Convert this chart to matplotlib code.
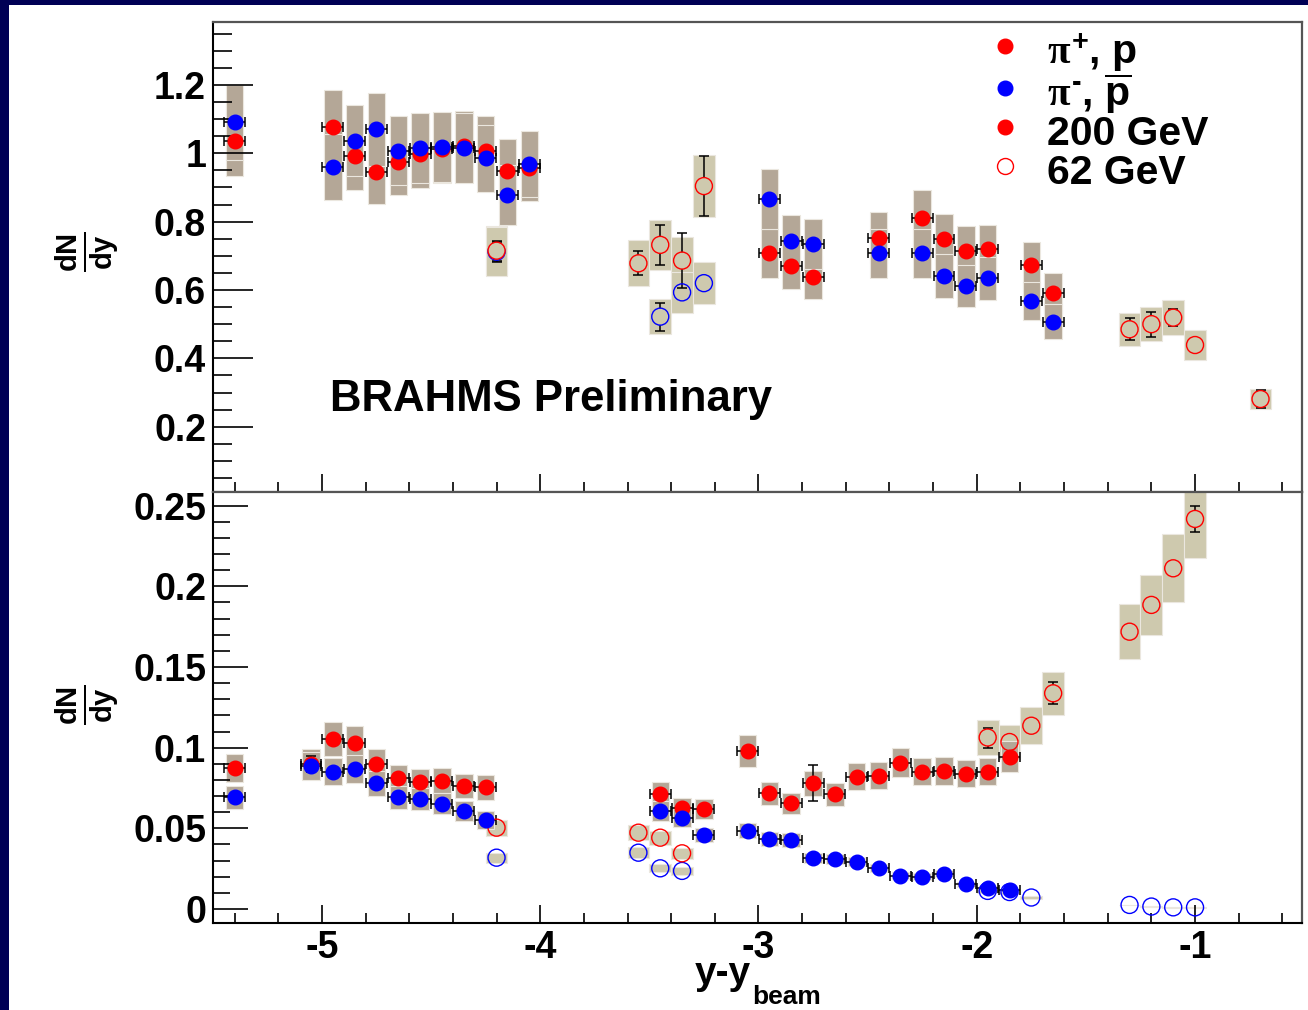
"""
BRAHMS preliminary: dN/dy vs y - y_beam, 200 GeV and 62 GeV, two stacked panels.
"""
import numpy as np
import matplotlib
matplotlib.use("Agg")
import matplotlib.pyplot as plt
from matplotlib.patches import Rectangle
from matplotlib.lines import Line2D
from matplotlib.ticker import MultipleLocator, FixedLocator, FixedFormatter

plt.rcParams['font.family'] = ['Liberation Sans', 'DejaVu Sans']
plt.rcParams['font.weight'] = 'bold'
plt.rcParams['mathtext.fontset'] = 'custom'
plt.rcParams['mathtext.rm'] = 'Liberation Sans:bold'
plt.rcParams['mathtext.bf'] = 'Liberation Sans:bold'
plt.rcParams['mathtext.it'] = 'Liberation Serif'
plt.rcParams['axes.unicode_minus'] = False

# ---- top panel, 200 GeV (red = pi+, p ; blue = pi-, pbar)
top_x200 = [-5.40, -4.95, -4.85, -4.75, -4.65, -4.55, -4.45, -4.35, -4.25, -4.15, -4.05,
            -2.95, -2.85, -2.75, -2.45, -2.25, -2.15, -2.05, -1.95, -1.75, -1.65]
top_red200 = [1.037, 1.078, 0.993, 0.946, 0.974, 0.998, 1.013, 1.022, 1.007, 0.948, 0.956,
              0.707, 0.671, 0.637, 0.753, 0.812, 0.748, 0.715, 0.719, 0.673, 0.590]
top_blue200 = [1.090, 0.959, 1.037, 1.070, 1.008, 1.015, 1.019, 1.015, 0.985, 0.878, 0.969,
               0.866, 0.744, 0.734, 0.707, 0.707, 0.641, 0.612, 0.634, 0.568, 0.507]
top_rerr200 = [0.0] * len(top_x200)
top_berr200 = [0.0] * len(top_x200)

# ---- top panel, 62 GeV
top_x62r = [-4.2, -3.55, -3.45, -3.35, -3.25, -1.3, -1.2, -1.1, -1.0, -0.7]
top_red62 = [0.715, 0.678, 0.732, 0.686, 0.904, 0.485, 0.500, 0.519, 0.439, 0.281]
top_rerr62 = [0.029, 0.035, 0.059, 0.080, 0.089, 0.032, 0.037, 0.025, 0.0, 0.025]
top_x62b = [-4.2, -3.45, -3.35, -3.25]
top_blue62 = [0.712, 0.522, 0.593, 0.620]
top_berr62 = [0.029, 0.041, 0.0, 0.0]

# ---- bottom panel, 200 GeV
bot_x200 = [-5.40, -5.05, -4.95, -4.85, -4.75, -4.65, -4.55, -4.45, -4.35, -4.25,
            -3.45, -3.35, -3.25, -3.05, -2.95, -2.85, -2.75, -2.65, -2.55, -2.45,
            -2.35, -2.25, -2.15, -2.05, -1.95, -1.85]
bot_red200 = [0.0872, 0.0900, 0.1052, 0.1031, 0.0899, 0.0810, 0.0789, 0.0796, 0.0763, 0.0754,
              0.0713, 0.0624, 0.0618, 0.0981, 0.0717, 0.0655, 0.0779, 0.0711, 0.0820, 0.0826,
              0.0907, 0.0851, 0.0857, 0.0837, 0.0852, 0.0944]
bot_blue200 = [0.0692, 0.0887, 0.0851, 0.0866, 0.0779, 0.0692, 0.0680, 0.0651, 0.0608, 0.0552,
               0.0609, 0.0562, 0.0459, 0.0486, 0.0434, 0.0428, 0.0318, 0.0308, 0.0293, 0.0256,
               0.0207, 0.0200, 0.0217, 0.0153, 0.0128, 0.0120]
bot_rerr200 = [0.0, 0.005, 0.0, 0.0, 0.0, 0.0, 0.0, 0.0, 0.0, 0.0,
               0.0, 0.0, 0.0, 0.0, 0.0, 0.0, 0.0112, 0.0, 0.0, 0.0,
               0.0, 0.0, 0.0, 0.0, 0.0, 0.0]
bot_berr200 = [0.0] * len(bot_x200)

# ---- bottom panel, 62 GeV
bot_x62r = [-4.2, -3.55, -3.45, -3.35, -1.95, -1.85, -1.75, -1.65, -1.3, -1.2, -1.1, -1.0]
bot_red62 = [0.0504, 0.0473, 0.0442, 0.0345, 0.1063, 0.1035, 0.1136, 0.1337,
             0.1719, 0.1885, 0.2112, 0.2418]
bot_rerr62 = [0.0, 0.0, 0.0, 0.0, 0.0062, 0.0, 0.0, 0.0068, 0.0, 0.0, 0.0, 0.0078]
bot_x62b = [-4.2, -3.55, -3.45, -3.35, -1.95, -1.85, -1.75, -1.3, -1.2, -1.1, -1.0]
bot_blue62 = [0.0318, 0.0349, 0.0252, 0.0236, 0.0112, 0.0105, 0.0071,
              0.0025, 0.0015, 0.0010, 0.0010]
bot_berr62 = [0.0] * len(bot_x62b)

SYS = 0.10          # relative systematic error (boxes)
XERR200 = 0.048     # half bin for the 200 GeV points
BOX200 = '#b4a797'
BOX62 = '#cec9ae'
RED = '#ff0000'
BLUE = '#0000ff'

W, H = 1308, 1010


def fx(px):
    return px / W


def fy(py):
    return 1 - py / H


def sys_boxes(ax, x, y, width, color, z):
    y = np.asarray(y)
    ax.bar(x, 2 * SYS * y, bottom=y * (1 - SYS), width=width, color=color,
           edgecolor='#ebe7df', linewidth=0.8, zorder=z)


def stat_bars(ax, x, y, err):
    # only points whose statistical error is visible
    sel = [(a, b, e) for a, b, e in zip(x, y, err) if e > 0]
    if not sel:
        return
    xs, ys, es = zip(*sel)
    ax.errorbar(xs, ys, yerr=es, fmt='none', ecolor='black', elinewidth=1.1,
                capsize=3.5, capthick=1.1, zorder=3)


def draw_panel(ax, x200, r200, b200, re200, be200, x62r, r62, re62, x62b, b62, be62):
    sys_boxes(ax, x62r, r62, 0.1, BOX62, 1)
    sys_boxes(ax, x62b, b62, 0.1, BOX62, 1)
    sys_boxes(ax, x200, r200, 0.08, BOX200, 1.5)
    sys_boxes(ax, x200, b200, 0.08, BOX200, 1.5)

    stat_bars(ax, x62r, r62, re62)
    stat_bars(ax, x62b, b62, be62)
    stat_bars(ax, x200, r200, re200)
    stat_bars(ax, x200, b200, be200)
    ax.errorbar(x200, r200, xerr=XERR200, fmt='none', ecolor='black',
                elinewidth=1.1, capsize=3.5, capthick=1.1, zorder=3)
    ax.errorbar(x200, b200, xerr=XERR200, fmt='none', ecolor='black',
                elinewidth=1.1, capsize=3.5, capthick=1.1, zorder=3)

    # open markers: fill with box colour where an error bar would cross them
    fc_b = [BOX62 if e > 0 else 'none' for e in be62]
    fc_r = [BOX62 if e > 0 else 'none' for e in re62]
    ax.scatter(x62b, b62, s=150, marker='o', facecolors=fc_b, edgecolors=BLUE,
               linewidths=1.0, zorder=4)
    ax.scatter(x62r, r62, s=150, marker='o', facecolors=fc_r, edgecolors=RED,
               linewidths=1.0, zorder=4)

    ax.plot(x200, r200, 'o', color=RED, ms=10.5, mec=RED, zorder=5)
    ax.plot(x200, b200, 'o', color=BLUE, ms=10.5, mec=BLUE, zorder=6)


def style_axis(ax, ylen, ylen_minor):
    ax.tick_params(which='both', direction='in', top=False, right=False,
                   labelsize=27, width=1.2, color='black')
    ax.yaxis.set_tick_params(which='major', length=ylen, pad=5)
    ax.yaxis.set_tick_params(which='minor', length=ylen_minor)
    ax.xaxis.set_tick_params(which='major', length=13, pad=5)
    ax.xaxis.set_tick_params(which='minor', length=7)
    for lab in ax.get_xticklabels() + ax.get_yticklabels():
        lab.set_fontweight('bold')
    for side in ['left', 'bottom']:
        ax.spines[side].set_linewidth(1.5)
        ax.spines[side].set_color('black')
    for side in ['top', 'right']:
        ax.spines[side].set_linewidth(1.6)
        ax.spines[side].set_color('#555555')


fig = plt.figure(figsize=(W / 100, H / 100), dpi=100)
fig.patch.set_facecolor('#000055')
fig.add_artist(Rectangle((fx(9), 0), 1, fy(5), transform=fig.transFigure,
                         facecolor='white', edgecolor='none', zorder=-10))

ax1 = fig.add_axes([fx(213), fy(492), fx(1302) - fx(213), fy(22) - fy(492)])
ax2 = fig.add_axes([fx(213), fy(923), fx(1302) - fx(213), fy(492) - fy(923)])

draw_panel(ax1, top_x200, top_red200, top_blue200, top_rerr200, top_berr200,
           top_x62r, top_red62, top_rerr62, top_x62b, top_blue62, top_berr62)
draw_panel(ax2, bot_x200, bot_red200, bot_blue200, bot_rerr200, bot_berr200,
           bot_x62r, bot_red62, bot_rerr62, bot_x62b, bot_blue62, bot_berr62)

for ax in (ax1, ax2):
    ax.set_xlim(-5.499, -0.51)
    ax.xaxis.set_major_locator(MultipleLocator(1))
    ax.xaxis.set_minor_locator(MultipleLocator(0.2))
    ax.set_facecolor('white')

ax1.set_ylim(0.009, 1.384)
ax1.yaxis.set_major_locator(FixedLocator([0.2, 0.4, 0.6, 0.8, 1.0, 1.2]))
ax1.yaxis.set_major_formatter(FixedFormatter(['0.2', '0.4', '0.6', '0.8', '1', '1.2']))
ax1.yaxis.set_minor_locator(MultipleLocator(0.05))
ax1.tick_params(axis='x', labelbottom=False)

ax2.set_ylim(-0.0087, 0.2585)
ax2.yaxis.set_major_locator(FixedLocator([0, 0.05, 0.1, 0.15, 0.2, 0.25]))
ax2.yaxis.set_major_formatter(FixedFormatter(['0', '0.05', '0.1', '0.15', '0.2', '0.25']))
ax2.yaxis.set_minor_locator(MultipleLocator(0.01))
ax2.xaxis.set_major_locator(FixedLocator([-5, -4, -3, -2, -1]))
ax2.xaxis.set_major_formatter(FixedFormatter(['-5', '-4', '-3', '-2', '-1']))

style_axis(ax1, 29, 14)
style_axis(ax2, 25, 12)

# axis titles
for ycen in (252, 705):
    fig.text(fx(88), fy(ycen), r'$\mathbf{\frac{dN}{dy}}$', rotation=90,
             fontsize=30, ha='center', va='center')
fig.text(fx(695), fy(984), 'y-y', fontsize=28, fontweight='bold', va='baseline')
fig.text(fx(752), fy(1004), 'beam', fontsize=19, fontweight='bold', va='baseline')

fig.text(fx(330), fy(411), 'BRAHMS Preliminary', fontsize=31.5, fontweight='bold',
         va='baseline')

# legend
leg_rows = [(46, RED, RED, r'$\pi^{+}$, p'),
            (88, BLUE, BLUE, r'$\pi^{\text{-}}$, $\overline{\mathrm{p}}$'),
            (127, RED, RED, '200 GeV'),
            (166, 'none', RED, '62 GeV')]
for py, fc, ec, label in leg_rows:
    fig.add_artist(Line2D([fx(1005)], [fy(py)], marker='o', ms=10.5 if fc != 'none' else 11.5,
                          markerfacecolor=fc, markeredgecolor=ec,
                          markeredgewidth=1.0, linestyle='none', transform=fig.transFigure))
    fig.text(fx(1047), fy(py + 18), label, fontsize=29.5, fontweight='bold', va='baseline')

fig.savefig('out.png', dpi=100, facecolor=fig.get_facecolor())
